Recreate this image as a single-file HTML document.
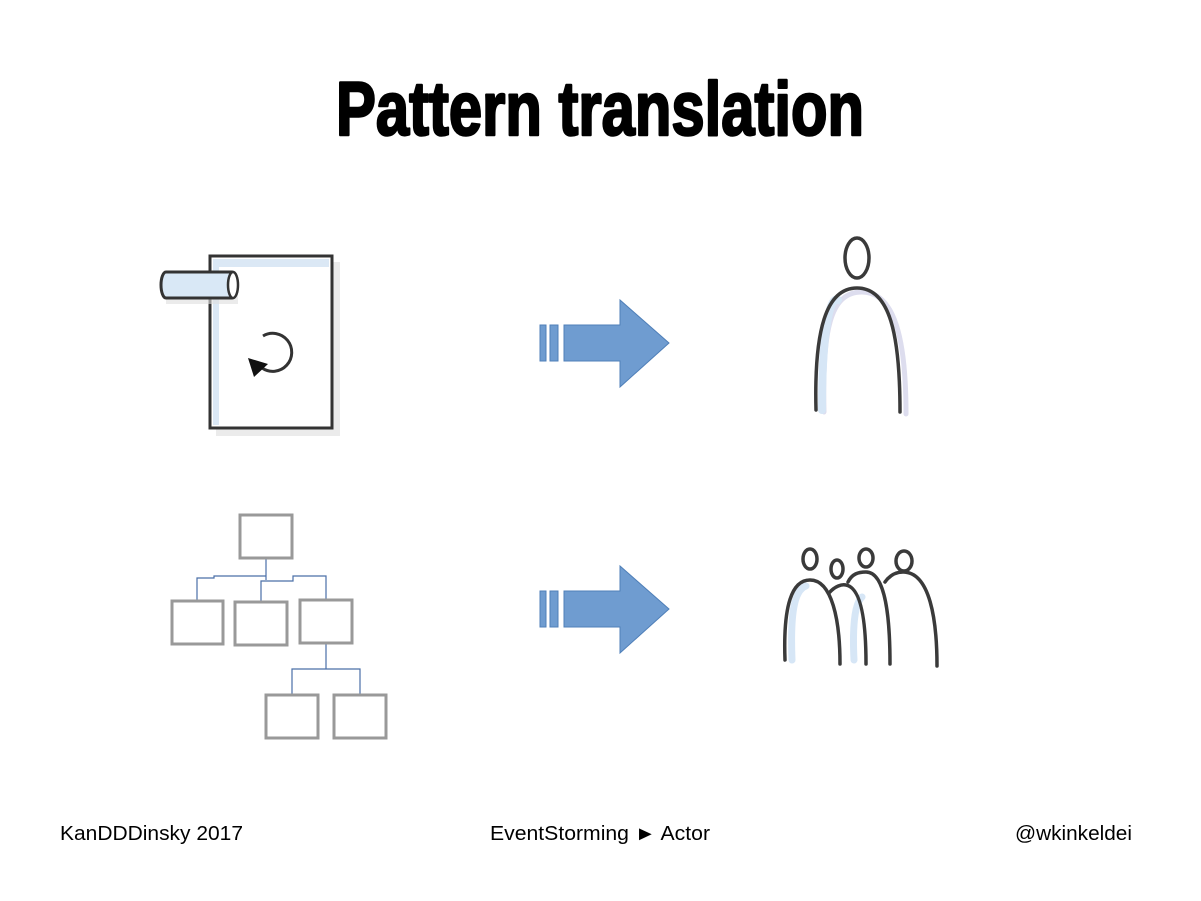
<!DOCTYPE html>
<html><head><meta charset="utf-8"><style>
html,body{margin:0;padding:0;background:#fff;}
svg{display:block;}
</style></head><body>
<svg width="1201" height="901" viewBox="0 0 1201 901" xmlns="http://www.w3.org/2000/svg">
<rect width="1201" height="901" fill="#fff"/>
<text x="600" y="135" text-anchor="middle" font-family="Liberation Sans, sans-serif" font-weight="bold" font-size="76" textLength="528" lengthAdjust="spacingAndGlyphs" fill="#000" stroke="#000" stroke-width="2.5" stroke-linejoin="round">Pattern translation</text>

<!-- top-left icon -->
<rect x="216" y="262" width="124" height="174" fill="#e2e2e2" opacity="0.7"/>
<rect x="210" y="256" width="122" height="172" fill="#fff" stroke="#333" stroke-width="3"/>
<rect x="213" y="259" width="116" height="8" fill="#dbe8f5"/>
<rect x="213" y="259" width="6" height="166" fill="#dbe8f5"/>
<rect x="166" y="278" width="72" height="26" fill="#ddd" opacity="0.6"/>
<path d="M166 272 H232 A5 13 0 0 1 232 298 H166 A5 13 0 0 1 166 272 Z" fill="#d9e8f6" stroke="#333" stroke-width="3"/>
<ellipse cx="233" cy="285" rx="5" ry="13" fill="#fff" stroke="#333" stroke-width="2.5"/>
<path d="M262 368 A19 19 0 1 0 263 336" fill="none" stroke="#333" stroke-width="3" transform="rotate(0)"/>
<polygon points="248,358 268,364 254,377" fill="#111"/>

<!-- arrows -->
<g fill="#6f9cd0" stroke="#4f7fb8" stroke-width="1">
<rect x="540" y="325" width="6" height="36"/><rect x="550" y="325" width="8" height="36"/>
<polygon points="564,325 620,325 620,300 669,343 620,387 620,361 564,361"/>
<rect x="540" y="591" width="6" height="36"/><rect x="550" y="591" width="8" height="36"/>
<polygon points="564,591 620,591 620,566 669,609 620,653 620,627 564,627"/>
</g>

<!-- single person -->
<g fill="none" stroke-linecap="round">
<path d="M824 412 C822 330 830 292 862 292 C895 292 906 340 906 414" stroke="#dde" stroke-width="5"/>
<path d="M822 410 C822 330 830 295 838 300" stroke="#d6e6f6" stroke-width="8"/>
<path d="M816 410 C814 330 826 288 857 288 C890 288 900 335 900 412" stroke="#3a3a3a" stroke-width="3.5"/>
<ellipse cx="857" cy="258" rx="12" ry="20" stroke="#3a3a3a" stroke-width="3.5"/>
</g>

<!-- group -->
<g fill="none" stroke="#3a3a3a" stroke-width="3.5" stroke-linecap="round">
<g stroke="#d6e6f6" stroke-width="7">
<path d="M792 660 C790 610 795 590 806 586"/>
<path d="M854 660 C852 620 856 602 862 597"/>
</g>
<path d="M785 660 C783 605 792 580 810 580 C832 580 840 620 840 664"/>
<ellipse cx="810" cy="559" rx="7" ry="10"/>
<path d="M829 593 C835 586 842 584 846 585 C862 588 866 625 866 664"/>
<ellipse cx="837" cy="569" rx="6" ry="9"/>
<path d="M848 582 C852 574 858 572 866 572 C886 572 890 620 890 664"/>
<ellipse cx="866" cy="558" rx="7" ry="9"/>
<path d="M885 582 C890 575 896 572 903 572 C930 572 937 620 937 666"/>
<ellipse cx="904" cy="561" rx="8" ry="10"/>
</g>

<!-- org chart -->
<g fill="none" stroke="#4a6fa8" stroke-width="1.2">
<path d="M266 558 V580"/>
<path d="M197 601 V578 H214 V576 H266"/>
<path d="M261 601 V581 H293 V576 H326 V600"/>
<path d="M326 643 V669 M292 695 V669 H360 V695"/>
</g>
<g fill="#fff" stroke="#999" stroke-width="3">
<rect x="240" y="515" width="52" height="43"/>
<rect x="172" y="601" width="51" height="43"/>
<rect x="235" y="602" width="52" height="43"/>
<rect x="300" y="600" width="52" height="43"/>
<rect x="266" y="695" width="52" height="43"/>
<rect x="334" y="695" width="52" height="43"/>
</g>

<g font-family="Liberation Sans, sans-serif" font-size="20" fill="#000">
<text x="60" y="840" textLength="183" lengthAdjust="spacingAndGlyphs">KanDDDinsky 2017</text>
<text x="490" y="840" textLength="220" lengthAdjust="spacingAndGlyphs">EventStorming ► Actor</text>
<text x="1015" y="840" textLength="117" lengthAdjust="spacingAndGlyphs">@wkinkeldei</text>
</g>
</svg>
</body></html>
